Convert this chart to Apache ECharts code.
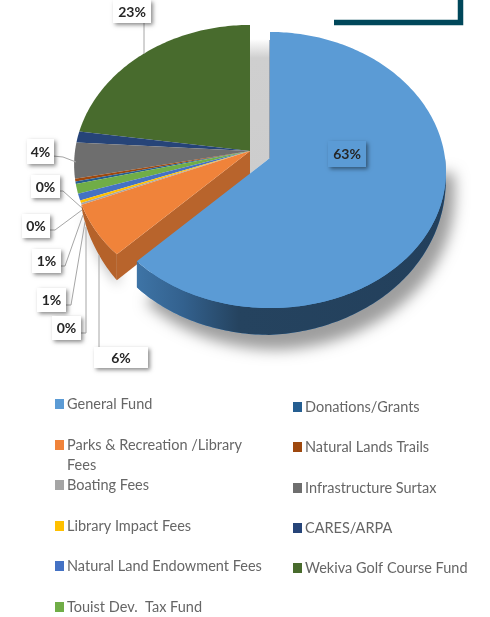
<!DOCTYPE html>
<html>
<head>
<meta charset="utf-8">
<title>Funds</title>
<script src="https://cdn.jsdelivr.net/npm/echarts@6/dist/echarts.min.js"></script>
<style>
	html, body {margin:0; padding:0; background:#fff;}
	#chart {width:490px; height:617px;}
</style>
</head>
<body>
<div id="chart"></div>
<script>
var categories = ['General Fund', 'Parks & Recreation /Library Fees', 'Boating Fees', 'Library Impact Fees', 'Natural Land Endowment Fees', 'Touist Dev.  Tax Fund', 'Donations/Grants', 'Natural Lands Trails', 'Infrastructure Surtax', 'CARES/ARPA', 'Wekiva Golf Course Fund'];
var values = [62.5, 6.3, 0.2, 0.3, 0.8, 1.1, 0.3, 0.3, 4.2, 1.3, 22.7];
var colors = ['#5b9bd5', '#f0833a', '#a5a5a5', '#ffc000', '#4472c4', '#70ad47', '#255e91', '#9e480e', '#6e6e6e', '#264478', '#486b2d'];

//label boxes: which slice, box [x,y,w,h], leader line
var labelLayout = [
	{slice:10, box:[113,0,38,23], line:[[144,22],[144,54]]},
	{slice:0, box:[328,141,38,26], line:null},
	{slice:8, box:[27,139,27,25], line:[[53,156],[63,157],[76,162]]},
	{slice:6, box:[31,175,29,23], line:[[57,191],[63,191],[82,208]]},
	{slice:3, box:[22,214,28,24], line:[[48,230],[55,230],[82,210]]},
	{slice:5, box:[32,249,29,24], line:[[58,266],[65,266],[83,215]]},
	{slice:4, box:[37,288,29,24], line:[[63,305],[71,305],[85,222]]},
	{slice:2, box:[52,316,29,24], line:[[78,333],[86,333],[86,227]]},
	{slice:1, box:[94,347,54,21], line:[[99,347],[99,255]]}
];

//legend rows: marker left, text middle
var legendLayout = [
	[55,404], [55,445], [55,485], [55,526], [55,566], [55,607],
	[293,407], [293,447], [293,488], [293,528], [293,568]
];

var total = 0;
for(var i = 0; i < values.length; i ++){
	total += values[i];
}

//pie geometry, the disc is tilted so the front is a bit bigger than the back
var RX = 175, RY = 137, PERSP_X = 0.1, PERSP_Y = 0.087, DEPTH = 24.5;
var APEX = [250, 151];
var APEX_OUT = [270, 158];//General Fund is pulled out
var WALL_FROM = 90, WALL_TO = 248, WALL_FULL_R = 180, WALL_FULL_L = 225;

function wallDepth(deg){
	if(deg < WALL_FULL_R){
		return DEPTH * Math.sqrt(Math.max(0, deg - WALL_FROM) / (WALL_FULL_R - WALL_FROM));
	}
	if(deg > WALL_FULL_L){
		return DEPTH * Math.sqrt(Math.max(0, WALL_TO - deg) / (WALL_TO - WALL_FULL_L));
	}
	return DEPTH;
}

function project(apex, deg, depth){
	var a = deg * Math.PI / 180;
	var u = Math.sin(a), v = -Math.cos(a);
	var wy = 1 - PERSP_Y * v;
	return [apex[0] + RX * u / (1 - PERSP_X * v), apex[1] + RY * v / wy + (depth || 0) / wy];
}

function arc(apex, from, to, useDepth){
	var pts = [];
	var n = Math.max(2, Math.ceil(Math.abs(to - from)));
	for(var i = 0; i <= n; i ++){
		var deg = from + (to - from) * i / n;
		pts.push(project(apex, deg, useDepth ? wallDepth(deg) : 0));
	}
	return pts;
}

function sliceStart(idx){
	var s = 0;
	for(var i = 0; i < idx; i ++){
		s += values[i];
	}
	return s / total * 360;
}

function makeRender(idx){
	return function(params, api){
		var children = [];
		var apex = idx == 0 ? APEX_OUT : APEX;
		var from = sliceStart(idx);
		var to = from + values[idx] / total * 360;
		var wallColor = '#b5622a';
		var shadow = {};

		if(idx == 0){
			//the gap left by the pulled out slice
			children.push({
				type:'polygon',
				shape:{points:[[APEX[0], APEX[1] - 112], [APEX_OUT[0], APEX[1] - 112], [APEX_OUT[0], APEX_OUT[1]], [APEX[0], APEX[1] + DEPTH - 2]]},
				style:{fill:new echarts.graphic.LinearGradient(0, 0, 0, 1, [
					{offset:0, color:'rgba(205,205,205,0)'},
					{offset:0.14, color:'#cfcfcf'},
					{offset:1, color:'#cdcdcd'}
				])}
			});
			children.push({
				type:'line',
				shape:{x1:APEX_OUT[0], y1:APEX_OUT[1] - 118, x2:APEX_OUT[0], y2:APEX_OUT[1]},
				style:{stroke:'#4f6f92', lineWidth:1}
			});
			//soft shadow under the pulled out slice, the caster itself stays hidden under the slice
			children.push({
				type:'polygon',
				shape:{points:[apex].concat(arc(apex, WALL_FROM, to, true))},
				style:{fill:colors[0], shadowBlur:14, shadowOffsetX:9, shadowOffsetY:15, shadowColor:'rgba(0,0,0,0.38)'}
			});
			wallColor = new echarts.graphic.LinearGradient(0, 0, 1, 0, [
				{offset:0, color:'#3e74a6'},
				{offset:0.15, color:'#33618e'},
				{offset:0.33, color:'#25435f'},
				{offset:1, color:'#23405c'}
			]);
		}
		if(idx == 1){
			shadow = {shadowBlur:12, shadowOffsetX:2, shadowOffsetY:6, shadowColor:'rgba(0,0,0,0.25)'};
		}

		//outer wall
		var wFrom = Math.max(from, WALL_FROM), wTo = Math.min(to, WALL_TO);
		if(wFrom < wTo){
			var upper = arc(apex, wFrom, wTo, false);
			var lower = arc(apex, wFrom, wTo, true).reverse();
			var wallStyle = {fill:wallColor};
			for(var k in shadow){
				wallStyle[k] = shadow[k];
			}
			children.push({type:'polygon', shape:{points:upper.concat(lower)}, style:wallStyle});
		}

		//cut face next to the pulled out slice
		if(idx == 1){
			var corner = project(apex, from, 0);
			var cornerLow = project(apex, from, DEPTH);
			children.push({
				type:'polygon',
				shape:{points:[apex, corner, cornerLow, [apex[0], apex[1] + DEPTH]]},
				style:{fill:'#b8642c'}
			});
		}

		//top face
		children.push({
			type:'polygon',
			shape:{points:[apex].concat(arc(apex, from, to, false))},
			style:{fill:colors[idx]}
		});
		return {type:'group', children:children};
	};
}

function renderLabels(params, api){
	var item = labelLayout[api.value(0)];
	var b = item.box;
	var children = [];
	if(item.line){
		children.push({
			type:'polyline',
			shape:{points:item.line},
			style:{fill:null, stroke:'#a6a6a6', lineWidth:1}
		});
	}
	children.push({
		type:'rect',
		shape:{x:b[0], y:b[1], width:b[2], height:b[3]},
		style:{
			fill:item.slice == 0 ? colors[0] : '#fff',
			shadowBlur:4, shadowOffsetX:2, shadowOffsetY:2, shadowColor:'rgba(0,0,0,0.45)'
		}
	});
	children.push({
		type:'text',
		style:{
			x:b[0] + b[2] / 2, y:b[1] + b[3] / 2 + 0.5,
			text:Math.round(values[item.slice] / total * 100) + '%',
			align:'center', verticalAlign:'middle',
			font:'bold 14px Lato', fill:'#262626'
		}
	});
	return {type:'group', children:children};
}

//drawn from the back so the lower slices stay on top
var series = [];
for(var i = categories.length - 1; i >= 0; i --){
	series.push({
		type:'custom',
		name:categories[i],
		coordinateSystem:'none',
		silent:true,
		animation:false,
		itemStyle:{color:colors[i]},
		renderItem:makeRender(i),
		data:[[values[i]]]
	});
}
var labelIdx = [];
for(var i = 0; i < labelLayout.length; i ++){
	labelIdx.push([i]);
}
series.push({
	type:'custom',
	name:'labels',
	coordinateSystem:'none',
	silent:true,
	animation:false,
	z:5,
	renderItem:renderLabels,
	data:labelIdx
});

var legends = [];
for(var i = 0; i < categories.length; i ++){
	legends.push({
		left:legendLayout[i][0],
		top:legendLayout[i][1] - 10,
		padding:0,
		orient:'horizontal',
		itemWidth:9,
		itemHeight:10,
		icon:'rect',
		selectedMode:false,
		data:[categories[i]],
		formatter:function(name){
			return name.indexOf('Library Fees') > -1 ? 'Parks & Recreation /Library' : name;
		},
		textStyle:{fontFamily:'Lato', fontSize:14.5, color:'#666', padding:[0,0,0,-2], lineHeight:20, height:20}
	});
}

var myChart = echarts.init(document.getElementById('chart'), null, {renderer:'canvas'});
myChart.setOption({
	backgroundColor:'#fff',
	animation:false,
	legend:legends,
	series:series,
	graphic:[
		{
			type:'polyline',
			shape:{points:[[334,22.5],[460.5,22.5],[460.5,0]]},
			style:{fill:null, stroke:'#00475a', lineWidth:5.5}
		},
		{
			type:'text',
			style:{x:67, y:465, text:'Fees', font:'14.5px Lato', fill:'#666', verticalAlign:'middle'}
		}
	]
});
</script>
</body>
</html>
